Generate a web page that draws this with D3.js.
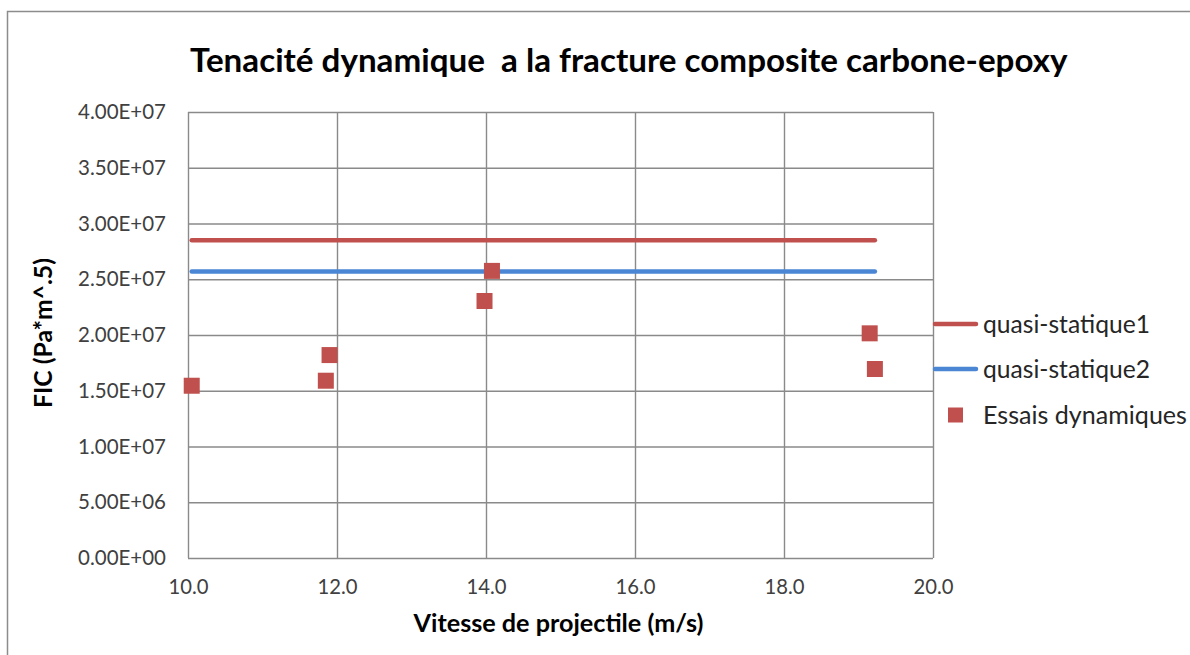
<!DOCTYPE html>
<html>
<head>
<meta charset="utf-8">
<script src="https://cdn.jsdelivr.net/npm/d3@7"></script>
<style>
  html, body { margin: 0; padding: 0; background: #fff; }
  svg { display: block; }
  text { font-family: Lato, "Open Sans", sans-serif; }
</style>
</head>
<body>
<svg id="chart" width="1190" height="655"></svg>
<script>
// Projectile speed (m/s) and measured dynamic fracture toughness (Pa*m^.5)
const speeds = [10.05, 11.85, 11.9, 13.98, 14.08, 19.15, 19.22];
const ficValues = [1.545e7, 1.59e7, 1.82e7, 2.305e7, 2.575e7, 2.015e7, 1.695e7];

// Quasi-static reference levels
const quasiStatic1 = 2.85e7;
const quasiStatic2 = 2.57e7;

const xTicks = [10, 12, 14, 16, 18, 20];
const yTicks = [0, 5e6, 1e7, 1.5e7, 2e7, 2.5e7, 3e7, 3.5e7, 4e7];

const seriesNames = ["quasi-statique1", "quasi-statique2", "Essais dynamiques"];
const titleText = "Tenacité dynamique\u00a0 a la fracture composite carbone-epoxy";
const xTitle = "Vitesse de projectile (m/s)";
const yTitle = "FIC (Pa*m^.5)";

const RED = "#c0504d";
const BLUE = "#4a86d4";
const GRID = "#8a8a8a";
const TICK_TEXT = "#404040";

const svg = d3.select("#chart");
const plot = { left: 188, top: 112, right: 933, bottom: 558 };

const x = d3.scaleLinear().domain([10, 20]).range([plot.left, plot.right]);
const y = d3.scaleLinear().domain([0, 4e7]).range([plot.bottom, plot.top]);

// Scale a text element's font size so it spans the wanted width
function fitWidth(sel, width) {
  const node = sel.node();
  const size = parseFloat(sel.attr("font-size"));
  const w = node.getComputedTextLength();
  const next = size * width / w;
  sel.attr("font-size", next.toFixed(2));
  return next;
}

// Excel-style scientific label, e.g. 2.50E+07
function sci(v) {
  const s = d3.format(".2e")(v);
  const [m, e] = s.split("e");
  const sign = e[0] === "-" ? "-" : "+";
  const digits = e.replace(/[+-]/, "").padStart(2, "0");
  return m + "E" + sign + digits;
}

// Outer chart frame
svg.append("rect")
  .attr("x", 7.5).attr("y", 11.5)
  .attr("width", 1200).attr("height", 700)
  .attr("fill", "#fff")
  .attr("stroke", "#8c8c8c").attr("stroke-width", 1.5);

// Title
const title = svg.append("text")
  .attr("x", 190).attr("y", 72)
  .attr("font-size", 28).attr("font-weight", 700)
  .attr("fill", "#000")
  .style("white-space", "pre")
  .text(titleText);
fitWidth(title, 878);

// Gridlines and tick labels
const xAxisG = svg.append("g")
  .attr("transform", `translate(0,${plot.bottom})`)
  .call(d3.axisBottom(x).tickValues(xTicks).tickSize(-(plot.bottom - plot.top)).tickFormat(d3.format(".1f")).tickPadding(22));
xAxisG.select(".domain").remove();
xAxisG.selectAll("line").attr("stroke", GRID).attr("stroke-width", 1.4);
const xLabels = xAxisG.selectAll("text")
  .attr("fill", TICK_TEXT).attr("font-size", 17.5)
  .attr("font-family", "Lato, sans-serif");
const xSize = fitWidth(d3.select(xLabels.nodes()[0]), 40);
xLabels.attr("font-size", xSize.toFixed(2));

const yAxisG = svg.append("g")
  .attr("transform", `translate(${plot.left},0)`)
  .call(d3.axisLeft(y).tickValues(yTicks).tickSize(-(plot.right - plot.left)).tickFormat(sci).tickPadding(22));
yAxisG.select(".domain").remove();
yAxisG.selectAll("line").attr("stroke", GRID).attr("stroke-width", 1.4);
const yLabels = yAxisG.selectAll("text")
  .attr("fill", TICK_TEXT).attr("font-size", 17.5)
  .attr("font-family", "Lato, sans-serif");
const ySize = fitWidth(d3.select(yLabels.nodes()[yLabels.size() - 1]), 88);
yLabels.attr("font-size", ySize.toFixed(2));

// Quasi-static horizontal levels across the tested speed range
const xMin = d3.min(speeds), xMax = d3.max(speeds);
const levelLine = d3.line().x(d => x(d[0])).y(d => y(d[1]));
[[quasiStatic1, RED], [quasiStatic2, BLUE]].forEach(([level, color]) => {
  svg.append("path")
    .datum([[xMin, level], [xMax, level]])
    .attr("d", levelLine)
    .attr("fill", "none")
    .attr("stroke", color)
    .attr("stroke-width", 4.5)
    .attr("stroke-linecap", "round");
});

// Dynamic test markers
const markerSize = 16;
svg.append("g").selectAll("rect")
  .data(speeds.map((s, i) => [s, ficValues[i]]))
  .join("rect")
  .attr("x", d => x(d[0]) - markerSize / 2)
  .attr("y", d => y(d[1]) - markerSize / 2)
  .attr("width", markerSize).attr("height", markerSize)
  .attr("fill", RED);

// Axis titles
const xt = svg.append("text")
  .attr("x", (plot.left + plot.right) / 2 - 2).attr("y", 632)
  .attr("text-anchor", "middle")
  .attr("font-size", 19).attr("font-weight", 700)
  .text(xTitle);
fitWidth(xt, 290);

const yt = svg.append("text")
  .attr("transform", `translate(52,${(plot.top + plot.bottom) / 2 - 2}) rotate(-90)`)
  .attr("text-anchor", "middle")
  .attr("font-size", 19).attr("font-weight", 700)
  .text(yTitle);
fitWidth(yt, 150);

// Legend
const legend = svg.append("g");
const legendRows = [
  { name: seriesNames[0], color: RED, type: "line", cy: 324, w: 167 },
  { name: seriesNames[1], color: BLUE, type: "line", cy: 369, w: 167 },
  { name: seriesNames[2], color: RED, type: "square", cy: 415, w: 204 }
];
legendRows.forEach(r => {
  if (r.type === "line") {
    legend.append("line")
      .attr("x1", 935).attr("x2", 976)
      .attr("y1", r.cy).attr("y2", r.cy)
      .attr("stroke", r.color).attr("stroke-width", 4.5)
      .attr("stroke-linecap", "round");
  } else {
    legend.append("rect")
      .attr("x", 948).attr("y", r.cy - 7.5)
      .attr("width", 15).attr("height", 15)
      .attr("fill", r.color);
  }
  const t = legend.append("text")
    .attr("x", 983).attr("y", r.cy)
    .attr("dy", "0.35em")
    .attr("font-size", 20)
    .attr("fill", "#262626")
    .text(r.name);
  fitWidth(t, r.w);
});
</script>
</body>
</html>
